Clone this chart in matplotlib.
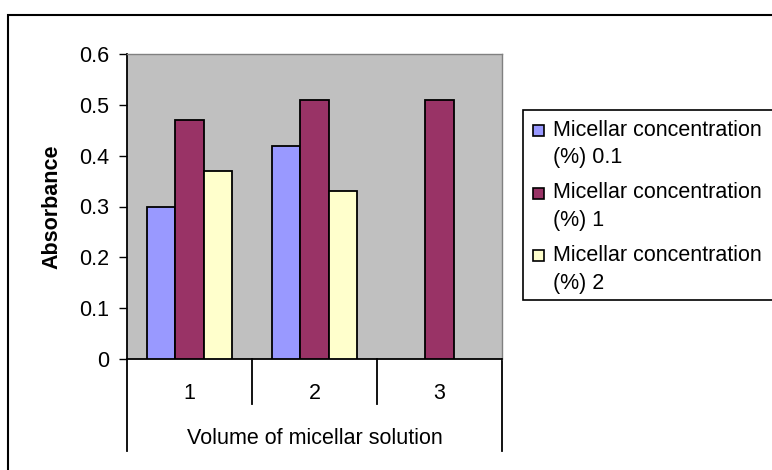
import numpy as np
import matplotlib
matplotlib.use("Agg")
import matplotlib.pyplot as plt
from matplotlib.patches import Rectangle
from matplotlib.lines import Line2D
from matplotlib import transforms

# --- data ---------------------------------------------------------------
categories = ["1", "2", "3"]
series_names = [
    "Micellar concentration\n(%) 0.1",
    "Micellar concentration\n(%) 1",
    "Micellar concentration\n(%) 2",
]
conc_01 = [0.30, 0.42, np.nan]
conc_1 = [0.47, 0.51, 0.51]
conc_2 = [0.37, 0.33, np.nan]
series_values = [conc_01, conc_1, conc_2]
series_colors = ["#9999FF", "#993366", "#FFFFCC"]
y_ticks = [0, 0.1, 0.2, 0.3, 0.4, 0.5, 0.6]
y_tick_labels = ["0", "0.1", "0.2", "0.3", "0.4", "0.5", "0.6"]
x_title = "Volume of micellar solution"
y_title = "Absorbance"

# --- figure -------------------------------------------------------------
W, H = 772, 470
DPI = 100
plt.rcParams["font.family"] = ["Liberation Sans", "DejaVu Sans"]
FS = 15.5

fig = plt.figure(figsize=(W / DPI, H / DPI), dpi=DPI)
fig.patch.set_facecolor("white")


def fx(px):
    return px / W


def fy(py):
    return 1 - py / H


# chart-area frame (runs off the right and bottom edges)
fig.patches.append(Rectangle((fx(8), -0.05), 1.2, fy(15) + 0.05,
                             transform=fig.transFigure, fill=False,
                             edgecolor="black", linewidth=1.5))

# plot area
L, T, R, B = 127, 54, 502, 359
ax = fig.add_axes([fx(L), fy(B), fx(R - L), (B - T) / H])
ax.set_facecolor("#C0C0C0")

x = np.arange(1, len(categories) + 1)
bw = 0.228
offsets = [-bw, 0.0, bw]
for vals, off, col in zip(series_values, offsets, series_colors):
    ax.bar(x + off, vals, width=bw, color=col, edgecolor="black",
           linewidth=1.3, zorder=3)

ax.set_xlim(0.5, len(categories) + 0.5)
ax.set_ylim(0, 0.6)
ax.set_yticks(y_ticks)
ax.set_yticklabels(y_tick_labels)
ax.set_xticks(x)
ax.set_xticklabels(categories)
ax.tick_params(axis="y", direction="out", length=6, width=1.0,
               labelsize=FS, pad=7, colors="black")
ax.tick_params(axis="x", length=0, labelsize=FS, pad=17)

for side in ("top", "right"):
    ax.spines[side].set_color("#808080")
    ax.spines[side].set_linewidth(1.0)
for side in ("left", "bottom"):
    ax.spines[side].set_color("black")
    ax.spines[side].set_linewidth(1.3)

ax.set_ylabel(y_title, fontsize=FS, fontweight="bold")
ax.yaxis.set_label_coords((52 - L) / (R - L), 0.5)
ax.yaxis.label.set_va("center")
ax.set_xlabel(x_title, fontsize=FS)
ax.xaxis.set_label_coords(0.5, (B - 438) / (B - T))
ax.xaxis.label.set_va("center")

# category divider lines under the axis
blend = transforms.blended_transform_factory(ax.transData, ax.transAxes)
short = (B - 404) / (B - T)
long_ = (B - 451) / (B - T)
edges = np.arange(0.5, len(categories) + 1.0, 1.0)
for i, e in enumerate(edges):
    bottom = long_ if i in (0, len(edges) - 1) else short
    ax.add_line(Line2D([e, e], [0, bottom], transform=blend, color="black",
                       linewidth=1.3, clip_on=False))

# legend box (runs off the right edge)
lg_l, lg_t, lg_b = 523, 110, 300
fig.patches.append(Rectangle((fx(lg_l), fy(lg_b)), 1.0, (lg_b - lg_t) / H,
                             transform=fig.transFigure, facecolor="white",
                             edgecolor="black", linewidth=1.2))
entry_y = [130.5, 193, 255.5]
for name, col, yy in zip(series_names, series_colors, entry_y):
    s = 11
    fig.patches.append(Rectangle((fx(538.5 - s / 2), fy(yy + s / 2)),
                                 s / W, s / H, transform=fig.transFigure,
                                 facecolor=col, edgecolor="black",
                                 linewidth=1.2))
    first, second = name.split("\n")
    fig.text(fx(553), fy(yy), first, fontsize=FS, va="center", ha="left")
    fig.text(fx(553), fy(yy + 27.5), second, fontsize=FS, va="center",
             ha="left")

fig.savefig("out.png", dpi=DPI)
